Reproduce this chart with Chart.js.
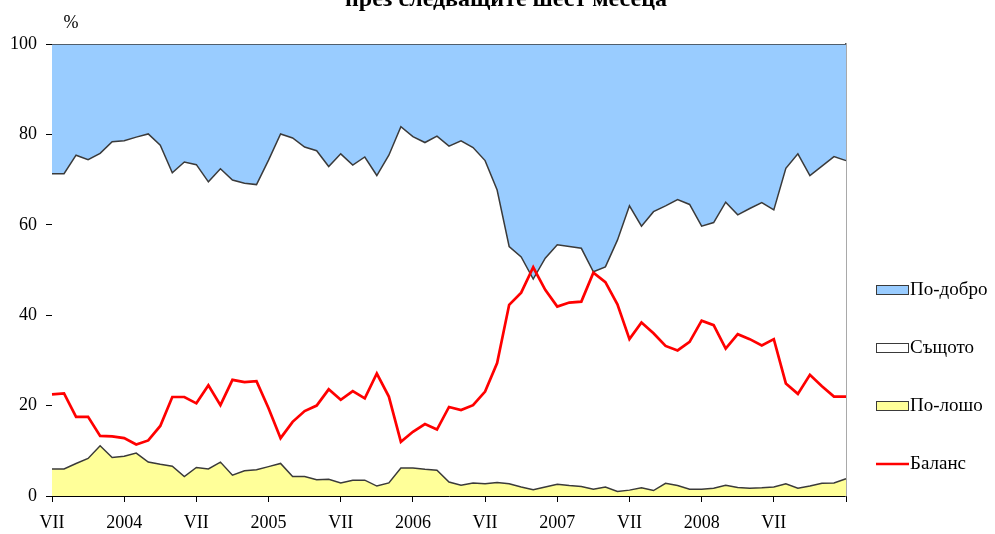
<!DOCTYPE html>
<html>
<head>
<meta charset="utf-8">
<script src="https://cdn.jsdelivr.net/npm/chart.js@4.4.1/dist/chart.umd.min.js"></script>
<style>
  html, body { margin: 0; padding: 0; background: #ffffff; }
  #wrap { position: relative; width: 995px; height: 534px; }
</style>
</head>
<body>
<div id="wrap"><canvas id="c" width="995" height="534"></canvas></div>
<script>
// ---- DATA (monthly, VII 2003 - I 2009) ----
const categories = [
  "2003-07","2003-08","2003-09","2003-10","2003-11","2003-12",
  "2004-01","2004-02","2004-03","2004-04","2004-05","2004-06",
  "2004-07","2004-08","2004-09","2004-10","2004-11","2004-12",
  "2005-01","2005-02","2005-03","2005-04","2005-05","2005-06",
  "2005-07","2005-08","2005-09","2005-10","2005-11","2005-12",
  "2006-01","2006-02","2006-03","2006-04","2006-05","2006-06",
  "2006-07","2006-08","2006-09","2006-10","2006-11","2006-12",
  "2007-01","2007-02","2007-03","2007-04","2007-05","2007-06",
  "2007-07","2007-08","2007-09","2007-10","2007-11","2007-12",
  "2008-01","2008-02","2008-03","2008-04","2008-05","2008-06",
  "2008-07","2008-08","2008-09","2008-10","2008-11","2008-12",
  "2009-01"
];
const tickLabels = ["VII","2004","VII","2005","VII","2006","VII","2007","VII","2008","VII",""];

const worse = [
  6.0,6.0,7.2,8.3,11.1,8.5,8.8,9.5,7.5,7.0,6.6,4.3,
  6.3,6.0,7.5,4.6,5.6,5.8,6.5,7.2,4.3,4.3,3.6,3.7,
  2.9,3.5,3.5,2.2,2.9,6.2,6.2,5.9,5.7,3.1,2.4,2.9,
  2.7,3.0,2.7,2.0,1.4,2.0,2.6,2.3,2.1,1.5,2.0,1.0,
  1.3,1.8,1.2,2.8,2.3,1.5,1.5,1.7,2.4,1.9,1.7,1.8,
  2.0,2.7,1.7,2.2,2.8,2.9,3.8
];
const same = [
  65.3,65.3,68.2,66.1,64.7,69.9,69.8,69.9,72.6,70.6,64.9,69.6,
  67.0,63.5,64.9,65.3,63.6,63.1,67.8,72.9,74.9,72.9,72.8,69.2,
  72.8,69.7,71.5,68.7,72.5,75.5,73.3,72.3,73.9,74.3,76.2,74.2,
  71.5,64.7,52.5,50.9,46.6,50.6,53.0,52.9,52.7,48.1,48.7,55.6,
  62.9,57.9,61.7,61.4,63.3,63.0,58.2,58.8,62.6,60.3,61.9,63.1,
  61.3,69.8,74.0,68.7,70.2,72.2,70.4
];
const better = [
  28.7,28.7,24.6,25.6,24.2,21.6,21.4,20.6,19.9,22.4,28.5,26.1,
  26.7,30.5,27.6,30.1,30.8,31.1,25.7,19.9,20.8,22.8,23.6,27.1,
  24.3,26.8,25.0,29.1,24.6,18.3,20.5,21.8,20.4,22.6,21.4,22.9,
  25.8,32.3,44.8,47.1,52.0,47.4,44.4,44.8,45.2,50.4,49.3,43.4,
  35.8,40.3,37.1,35.8,34.4,35.5,40.3,39.5,35.0,37.8,36.4,35.1,
  36.7,27.5,24.3,29.1,27.0,24.9,25.8
];
const balance = [
  22.5,22.7,17.5,17.5,13.3,13.2,12.8,11.4,12.3,15.5,21.9,21.9,
  20.5,24.5,20.1,25.7,25.2,25.4,19.4,12.8,16.4,18.8,20.0,23.6,
  21.3,23.2,21.6,27.1,22.0,12.0,14.2,15.9,14.7,19.7,19.0,20.1,
  23.1,29.4,42.3,45.0,50.6,45.6,41.9,42.8,43.0,49.4,47.3,42.4,
  34.7,38.4,36.0,33.2,32.2,34.1,38.8,37.8,32.6,35.8,34.7,33.3,
  34.7,24.9,22.6,26.8,24.3,22.0,22.0
];
const yTicks = [0, 20, 40, 60, 80, 100];

const titleText = "през следващите шест месеца";
const unitText = "%";

// ---- STYLE ----
const FONT = "'Liberation Serif', 'Times New Roman', serif";
const C_BETTER = "#99CCFF";
const C_SAME = "#FFFFFF";
const C_WORSE = "#FFFF99";
const C_BAL = "#FF0000";
const C_EDGE = "#3a3a3a";

const decorPlugin = {
  id: 'decor',
  afterDraw(chart) {
    const ctx = chart.ctx;
    ctx.save();
    // title (partly cut off at top)
    ctx.fillStyle = '#000';
    ctx.font = "bold 24px " + FONT;
    ctx.textAlign = 'center';
    ctx.textBaseline = 'alphabetic';
    ctx.fillText(titleText, 506, 6);
    // unit
    ctx.font = "18px " + FONT;
    ctx.textBaseline = 'middle';
    ctx.fillText(unitText, 71, 23);
    // legend
    const order = [2, 1, 0, 3];
    const ys = [290, 348, 406, 464];
    ctx.textAlign = 'left';
    order.forEach((di, k) => {
      const ds = chart.data.datasets[di];
      const y = ys[k];
      if (di === 3) {
        ctx.strokeStyle = ds.borderColor;
        ctx.lineWidth = 2.5;
        ctx.beginPath();
        ctx.moveTo(876, y);
        ctx.lineTo(909, y);
        ctx.stroke();
      } else {
        ctx.fillStyle = ds.backgroundColor;
        ctx.fillRect(876, y - 5, 33, 10);
        ctx.strokeStyle = C_EDGE;
        ctx.lineWidth = 1;
        ctx.strokeRect(876.5, y - 4.5, 32, 9);
      }
      ctx.fillStyle = '#000';
      ctx.font = "19px " + FONT;
      ctx.fillText(ds.label, 910, y);
    });
    ctx.restore();
  }
};

new Chart(document.getElementById('c'), {
  type: 'line',
  data: {
    labels: categories,
    datasets: [
      { label: 'По-лошо', data: worse, yAxisID: 'y', fill: 'origin',
        backgroundColor: C_WORSE, borderColor: C_EDGE, borderWidth: 1.5, order: 0 },
      { label: 'Същото', data: same, yAxisID: 'y', fill: '-1',
        backgroundColor: C_SAME, borderColor: C_EDGE, borderWidth: 1.5, order: 0 },
      { label: 'По-добро', data: better, yAxisID: 'y', fill: '-1',
        backgroundColor: C_BETTER, borderColor: C_EDGE, borderWidth: 1.5, order: 0 },
      { label: 'Баланс', data: balance, yAxisID: 'y2', fill: false,
        backgroundColor: C_BAL, borderColor: C_BAL, borderWidth: 2.7, order: -1 }
    ]
  },
  options: {
    responsive: false,
    animation: false,
    devicePixelRatio: 1,
    layout: { padding: { top: 44, right: 149, left: 0, bottom: 0 } },
    elements: { point: { radius: 0, hoverRadius: 0 }, line: { tension: 0 } },
    plugins: { legend: { display: false }, tooltip: { enabled: false }, title: { display: false } },
    scales: {
      x: {
        type: 'category',
        offset: false,
        grid: { display: true, drawOnChartArea: false, tickLength: 6, color: '#000', tickColor: '#000' },
        border: { display: true, color: '#000', width: 1 },
        ticks: {
          autoSkip: false, maxRotation: 0, minRotation: 0, padding: 10,
          color: '#000', font: { family: FONT, size: 18 },
          callback: function(v, i) { return i % 6 === 0 ? tickLabels[i / 6] : null; }
        },
        afterFit: (s) => { s.height = 38; }
      },
      y: {
        stacked: true, min: 0, max: 100,
        afterBuildTicks: (s) => { s.ticks = yTicks.map(v => ({ value: v })); },
        grid: { display: true, drawOnChartArea: false, tickLength: 6, color: '#000', tickColor: '#000' },
        border: { display: true, color: '#000', width: 1 },
        ticks: { padding: 9, color: '#000', font: { family: FONT, size: 18 } },
        afterFit: (s) => { s.width = 52; }
      },
      y2: { display: false, min: 0, max: 100, stacked: false },
      yr: {
        position: 'right', min: 0, max: 100,
        grid: { display: false },
        border: { display: true, color: '#555', width: 1.5 },
        ticks: { display: false },
        afterFit: (s) => { s.width = 0; }
      }
    }
  },
  plugins: [decorPlugin]
});
</script>
</body>
</html>
